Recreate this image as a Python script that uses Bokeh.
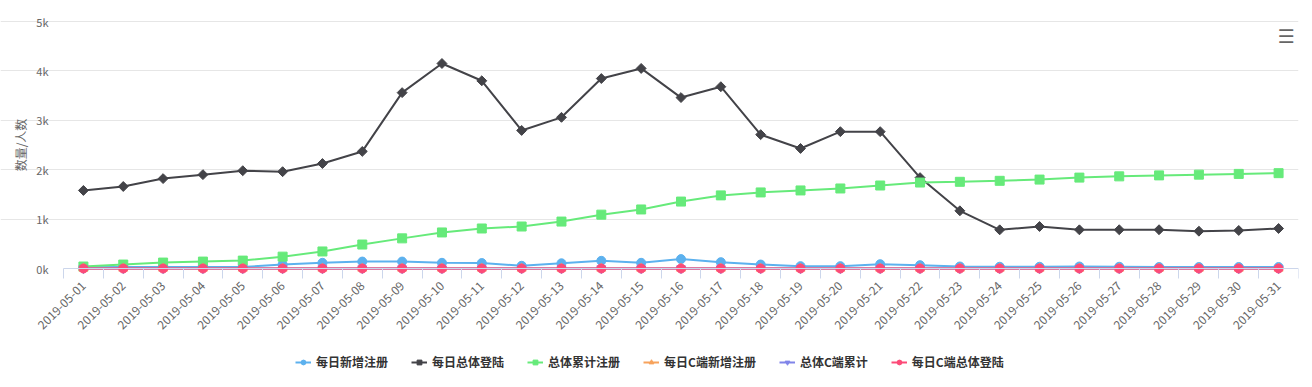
from bokeh.plotting import figure
from bokeh.models import Range1d, FixedTicker, Legend, LegendItem, Label
from bokeh.embed import file_html
from bokeh.resources import INLINE
import math

dates = ["2019-05-%02d" % d for d in range(1, 32)]

daily_new = [25, 30, 30, 30, 30, 80, 115, 140, 140, 115, 110, 55, 105, 155, 115, 190, 128, 80, 47, 47,
             87, 67, 40, 35, 35, 40, 35, 30, 30, 30, 30]
daily_login = [1580, 1660, 1820, 1900, 1980, 1960, 2125, 2370, 3560, 4150, 3800, 2795, 3060, 3845, 4050,
               3460, 3680, 2710, 2430, 2770, 2770, 1840, 1168, 783, 850, 783, 785, 785, 755, 770, 810]
total_reg = [40, 80, 120, 140, 160, 240, 345, 485, 610, 730, 810, 850, 950, 1090, 1195, 1355, 1480, 1540,
             1580, 1620, 1680, 1740, 1755, 1775, 1800, 1840, 1865, 1885, 1900, 1915, 1930]
c_daily_new = [0] * 31
c_total = [0] * 31
c_daily_login = [0] * 31

y_ticks = [0, 1000, 2000, 3000, 4000, 5000]
y_labels = ["0k", "1k", "2k", "3k", "4k", "5k"]

# name, values, colour, marker, size, angle
series = [
    ("每日新增注册", daily_new, "#5cb1ee", "circle", 9, 0),
    ("每日总体登陆", daily_login, "#434348", "square", 7, math.pi / 4),
    ("总体累计注册", total_reg, "#66ea7a", "square", 9, 0),
    ("每日C端新增注册", c_daily_new, "#f7a35c", "triangle", 9, 0),
    ("总体C端累计", c_total, "#8085e9", "inverted_triangle", 9, 0),
    ("每日C端总体登陆", c_daily_login, "#fc4b78", "circle", 9, 0),
]

FONT = "Noto Sans CJK SC"
xs = list(range(len(dates)))
n = len(dates)
cat_px = 1235 / n          # pixel width of one category
x_start = -0.5 - 63 / cat_px
py = 247 / 5000            # pixels per unit on y
y_start = -(380 - 268) / py
y_end = 268 / py

p = figure(width=1304, height=380, output_backend="svg", toolbar_location=None,
           x_range=Range1d(x_start, n - 0.5), y_range=Range1d(y_start, y_end),
           min_border_left=0, min_border_right=6, min_border_top=0, min_border_bottom=0)
p.outline_line_color = None
p.background_fill_color = "white"
p.border_fill_color = "white"

p.xgrid.grid_line_color = None
p.ygrid.grid_line_color = "#e6e6e6"
p.ygrid.ticker = FixedTicker(ticks=y_ticks[1:])
p.ygrid.bounds = (-0.5, n - 0.5)

xa = p.xaxis[0]
xa.fixed_location = 0
xa.bounds = (-0.5, n - 0.5)
xa.ticker = FixedTicker(ticks=xs, minor_ticks=[i - 0.5 for i in range(n + 1)])
xa.major_label_overrides = {i: d for i, d in enumerate(dates)}
xa.major_tick_line_color = None
xa.major_tick_in = 0
xa.major_tick_out = 6
xa.minor_tick_line_color = "#ccd6eb"
xa.minor_tick_in = 0
xa.minor_tick_out = 10
xa.axis_line_color = "#ccd6eb"
xa.major_label_orientation = math.pi / 4
xa.major_label_text_color = "#666666"
xa.major_label_text_font = FONT
xa.major_label_text_font_size = "12px"
xa.major_label_standoff = 5

ya = p.yaxis[0]
ya.fixed_location = -0.5
ya.bounds = (0, 5000)
ya.ticker = FixedTicker(ticks=y_ticks)
ya.major_label_overrides = {t: l for t, l in zip(y_ticks, y_labels)}
ya.axis_line_color = None
ya.major_tick_line_color = None
ya.minor_tick_line_color = None
ya.major_label_text_color = "#666666"
ya.major_label_text_font = FONT
ya.major_label_text_font_size = "11px"
ya.major_label_standoff = 9

p.add_layout(Label(x=-0.5, y=2500, x_offset=-43, text="数量/人数", angle=math.pi / 2,
                   text_font=FONT, text_font_size="12px", text_color="#666666",
                   text_align="center", text_baseline="middle"))

items = []
for name, vals, color, marker, size, ang in series:
    r1 = p.line(xs, vals, line_color=color, line_width=2)
    r2 = p.scatter(xs, vals, marker=marker, size=size, angle=ang, fill_color=color, line_color=color)
    items.append(LegendItem(label=name, renderers=[r1, r2]))

legend = Legend(items=items, orientation="horizontal", location=(295, 10),
                label_text_font=FONT, label_text_font_size="12px", label_text_font_style="bold",
                label_text_color="#333333", glyph_width=16, glyph_height=12, label_standoff=5,
                spacing=23, border_line_color=None, background_fill_alpha=0, padding=4, margin=0)
p.add_layout(legend, "center")

p.add_layout(Label(x=n - 0.5, y=5000, x_offset=-4, y_offset=-3, text="☰",
                   text_font="DejaVu Sans", text_font_size="19px", text_font_style="bold",
                   text_color="#666666", text_align="right", text_baseline="top"))

open("out.html", "w").write(file_html(p, INLINE))
